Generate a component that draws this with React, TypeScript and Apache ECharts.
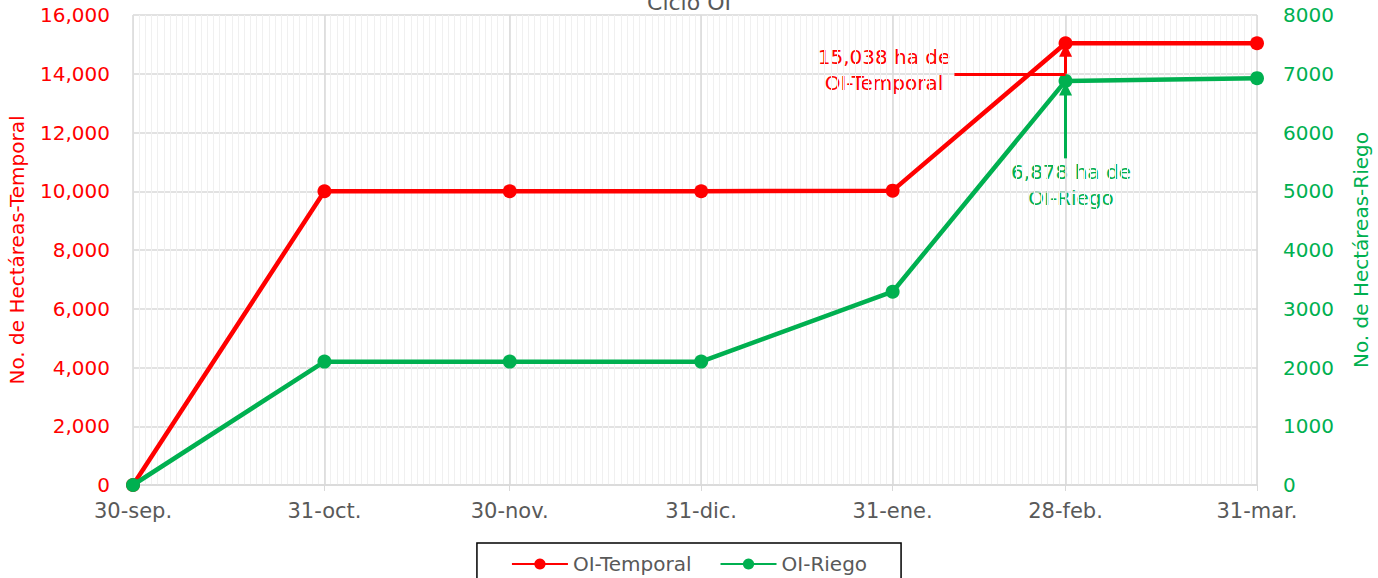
import React, { useEffect, useRef } from "react";
import * as echarts from "echarts";

const monthNames = ["sep", "oct", "nov", "dic", "ene", "feb", "mar"];
const monthDays = [30, 31, 30, 31, 31, 28, 31];
const majorLabels = ["30-sep.", "31-oct.", "30-nov.", "31-dic.", "31-ene.", "28-feb.", "31-mar."];
const temporalValues = [0, 10000, 10000, 10000, 10020, 15038, 15038];
const riegoValues = [0, 2100, 2100, 2100, 3290, 6878, 6925];

const FONT = "DejaVu Sans";
const RED = "#ff0000";
const GREEN = "#00b050";

function buildDays(): string[] {
  const out: string[] = ["30-sep."];
  for (let m = 1; m < monthNames.length; m++) {
    for (let d = 1; d <= monthDays[m]; d++) out.push(`${d}-${monthNames[m]}.`);
  }
  return out;
}

export default function App() {
  const ref = useRef<HTMLDivElement>(null);
  useEffect(() => {
    if (!ref.current) return;
    const chart = echarts.init(ref.current, undefined, { renderer: "svg" });
    const days = buildDays();
    const majorIdx = majorLabels.map((l) => days.indexOf(l));
    const isMajor = (i: number) => majorIdx.indexOf(i) >= 0;
    const tIdx = majorIdx[5];
    chart.setOption({
      animation: false,
      textStyle: { fontFamily: FONT },
      title: {
        text: "Ciclo OI",
        left: "center",
        top: -14,
        textStyle: { fontFamily: FONT, fontSize: 22, color: "#595959", fontWeight: "normal" },
      },
      grid: { left: 133, right: 121, top: 15, bottom: 93, outerBoundsMode: "none", containLabel: false },
      legend: {
        bottom: -14,
        left: "center",
        itemWidth: 56,
        itemHeight: 14,
        itemGap: 28,
        padding: [11, 34, 18, 34],
        borderColor: "#000",
        borderWidth: 1.5,
        textStyle: { fontFamily: FONT, fontSize: 20, color: "#595959" },
        data: ["OI-Temporal", "OI-Riego"],
      },
      xAxis: [
        {
          type: "category",
          data: days,
          boundaryGap: false,
          axisLine: { lineStyle: { color: "#d9d9d9", width: 1.5 } },
          axisTick: { show: true, length: 6, interval: (i: number) => isMajor(i), lineStyle: { color: "#d9d9d9" } },
          axisLabel: {
            interval: (i: number) => isMajor(i),
            color: "#595959",
            fontSize: 21,
            fontFamily: FONT,
            margin: 15,
          },
          splitLine: { show: true, interval: 0, lineStyle: { color: "#f0f0f0", width: 1 } },
        },
        {
          type: "category",
          data: days,
          boundaryGap: false,
          position: "bottom",
          axisLine: { show: false },
          axisTick: { show: false },
          axisLabel: { show: false },
          splitLine: { show: true, interval: (i: number) => isMajor(i), lineStyle: { color: "#d9d9d9", width: 1.5 } },
        },
      ],
      yAxis: [
        {
          type: "value",
          min: 0,
          max: 16000,
          interval: 2000,
          name: "No. de Hectáreas-Temporal",
          nameLocation: "middle",
          nameGap: 106,
          nameTextStyle: { color: RED, fontSize: 20, fontFamily: FONT },
          axisLine: { show: false },
          axisTick: { show: false },
          axisLabel: {
            color: RED,
            fontSize: 20,
            fontFamily: FONT,
            margin: 23,
            formatter: (v: number) => v.toLocaleString("en-US"),
          },
          splitLine: { show: true, lineStyle: { color: "#d9d9d9", width: 1.5 } },
        },
        {
          type: "value",
          min: 0,
          max: 8000,
          interval: 1000,
          name: "No. de Hectáreas-Riego",
          nameLocation: "middle",
          nameGap: 94,
          nameTextStyle: { color: GREEN, fontSize: 20, fontFamily: FONT },
          axisLine: { show: false },
          axisTick: { show: false },
          axisLabel: { color: GREEN, fontSize: 20, fontFamily: FONT, margin: 26, formatter: (v: number) => String(v) },
          splitLine: { show: false },
        },
      ],
      series: [
        {
          name: "OI-Temporal",
          type: "line",
          xAxisIndex: 0,
          yAxisIndex: 0,
          data: majorIdx.map((i, k) => [i, temporalValues[k]]),
          symbol: "circle",
          symbolSize: 14,
          lineStyle: { color: RED, width: 4.5 },
          itemStyle: { color: RED },
          z: 3,
          markLine: {
            silent: true,
            symbol: ["none", "none"],
            label: { show: false },
            lineStyle: { color: RED, width: 3, type: "solid" },
            data: [
              [{ coord: [133, 14000] }, { coord: [tIdx, 14000] }],
              [
                { coord: [tIdx, 14000], symbol: "none" },
                { coord: [tIdx, 14800], symbol: "triangle", symbolSize: [13, 13] },
              ],
            ],
          },
        },
        {
          name: "OI-Riego",
          type: "line",
          xAxisIndex: 0,
          yAxisIndex: 1,
          data: majorIdx.map((i, k) => [i, riegoValues[k]]),
          symbol: "circle",
          symbolSize: 14,
          lineStyle: { color: GREEN, width: 4.5 },
          itemStyle: { color: GREEN },
          z: 4,
          markLine: {
            silent: true,
            symbol: ["none", "none"],
            label: { show: false },
            lineStyle: { color: GREEN, width: 3, type: "solid" },
            data: [
              [
                { coord: [tIdx, 5560], symbol: "none" },
                { coord: [tIdx, 6740], symbol: "triangle", symbolSize: [13, 13] },
              ],
            ],
          },
        },
      ],
      graphic: [
        {
          type: "text",
          x: 884,
          y: 44,
          style: {
            text: "15,038 ha de\nOI-Temporal",
            fill: RED,
            font: `20px '${FONT}'`,
            align: "center",
            lineHeight: 26,
          },
        },
        {
          type: "text",
          x: 1071,
          y: 159,
          style: {
            text: "6,878 ha de\nOI-Riego",
            fill: GREEN,
            font: `20px '${FONT}'`,
            align: "center",
            lineHeight: 26,
          },
        },
      ],
    });
    return () => chart.dispose();
  }, []);
  return (
    <div
      ref={ref}
      style={{ width: 1378, height: 578, position: "absolute", left: 0, top: 0 }}
    />
  );
}
